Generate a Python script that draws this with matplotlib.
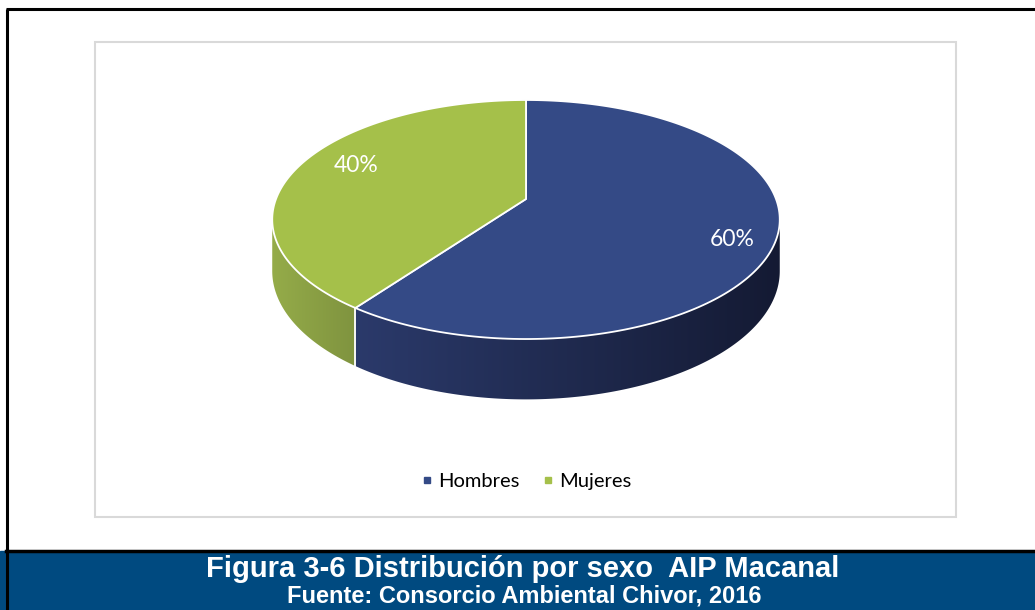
"""
Distribución por sexo AIP Macanal - pie 3D al estilo Excel
"""

import numpy as np
import matplotlib.pyplot as plt
from matplotlib.patches import Polygon, Rectangle
from matplotlib.lines import Line2D
from matplotlib.colors import LinearSegmentedColormap

# %% Datos
categorias = ['Hombres', 'Mujeres']
porcentajes = [60, 40]
etiquetas = ['60%', '40%']
colores_sup = ['#344A86', '#A5C04A']
# degradado del lateral (izquierda, derecha)
colores_lat = [('#2B3A6B', '#141A33'), ('#95AC49', '#7F933F')]

titulo = 'Figura 3-6 Distribución por sexo  AIP Macanal'
fuente = 'Fuente: Consorcio Ambiental Chivor, 2016'

# %% Geometría del pie (pixeles)
cx, cy = 526, 199
A, B, k = 250, 116, 0.1716
T = 50


def proyecta(theta, z=0.0):
    t = np.radians(theta)
    u, d = np.sin(t), np.cos(t)
    s = 1.0 / (1 + k * d)
    return cx + A * u * s, cy - B * d * s + z * T * s


fig = plt.figure(figsize=(10.35, 6.10), dpi=100)
ax = fig.add_axes([0, 0, 1, 1])

# marco y caja del grafico
ax.add_patch(Rectangle((95, 42), 861, 475, fill=False, ec='#D9D9D9', lw=1.5))
ax.plot([7, 7], [9, 610], color='black', lw=2.2, solid_capstyle='butt')
ax.plot([6, 1035], [9, 9], color='black', lw=2.2, solid_capstyle='butt')
ax.add_patch(Rectangle((0, 551), 1035, 59, color='#004A80', zorder=3))
ax.plot([6, 1035], [550.5, 550.5], color='black', lw=2.5, zorder=4)
ax.plot([7, 7], [550, 610], color='black', lw=2.2, zorder=4)

# angulos de cada porcion (desde arriba, sentido horario)
limites = np.concatenate([[0], np.cumsum(porcentajes) / sum(porcentajes) * 360])
vis_lo = np.degrees(np.arccos(-k))
vis_hi = 360 - vis_lo

# laterales con degradado horizontal
for i in range(len(categorias)):
    lo, hi = max(limites[i], vis_lo), min(limites[i + 1], vis_hi)
    if lo >= hi:
        continue
    angs = np.linspace(lo, hi, 200)
    arriba = [proyecta(a) for a in angs]
    abajo = [proyecta(a, 1) for a in angs[::-1]]
    pts = np.array(arriba + abajo)
    lateral = Polygon(pts, closed=True, fc='none', ec='none')
    ax.add_patch(lateral)
    xmin, xmax = pts[:, 0].min(), pts[:, 0].max()
    ymin, ymax = pts[:, 1].min(), pts[:, 1].max()
    cmap = LinearSegmentedColormap.from_list('lat%d' % i, colores_lat[i])
    im = ax.imshow(np.linspace(0, 1, 256)[None, :], cmap=cmap, aspect='auto',
                   extent=(xmin - 1, xmax + 1, ymax + 1, ymin - 1), interpolation='bilinear')
    im.set_clip_path(lateral)

# separación en el lateral
for b in limites:
    if vis_lo < b % 360 < vis_hi:
        p, q = proyecta(b), proyecta(b, 1)
        ax.plot([p[0], q[0]], [p[1], q[1]], color='white', lw=1.3)

# caras superiores
for i in range(len(categorias)):
    angs = np.linspace(limites[i], limites[i + 1], 200)
    pts = [(cx, cy)] + [proyecta(a) for a in angs]
    ax.add_patch(Polygon(pts, closed=True, fc=colores_sup[i], ec='white', lw=1.3,
                         joinstyle='round'))

# etiquetas de porcentaje
pos_etq = [(732, 239), (356, 166)]
for (x, y), t in zip(pos_etq, etiquetas):
    ax.text(x, y, t, color='white', fontsize=16.5, family='Lato',
            ha='center', va='center')

ax.set_xlim(0, 1035)
ax.set_ylim(610, 0)
ax.axis('off')

# leyenda
handles = [Line2D([], [], marker='s', ls='', color=c, markersize=5) for c in colores_sup]
fig.legend(handles, categorias, loc='center', bbox_to_anchor=(524 / 1035, 1 - 481 / 610),
           ncol=2, frameon=False, prop={'family': 'Lato', 'size': 14.5},
           handletextpad=0.05, columnspacing=0.9, handlelength=1.0)

# banda inferior
ax.text(523, 577, titulo, color='white', fontsize=21, fontweight='bold',
        family='Liberation Sans', ha='center', va='baseline', zorder=5)
ax.text(524, 603, fuente, color='white', fontsize=17, fontweight='bold',
        family='Liberation Sans', ha='center', va='baseline', zorder=5)

plt.savefig('out.png', dpi=100)
